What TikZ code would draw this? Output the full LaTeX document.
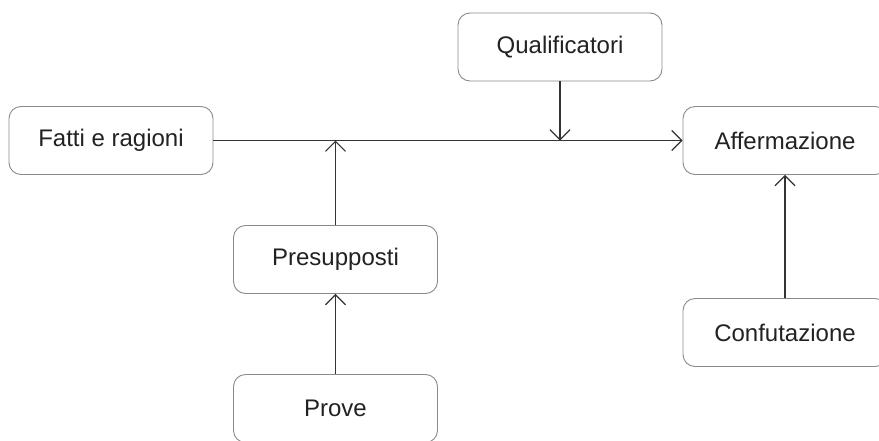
\documentclass[tikz,border=0pt]{standalone}
\usepackage{fontspec}
\setmainfont{Liberation Sans}
\usetikzlibrary{arrows.meta}
\definecolor{boxline}{HTML}{8A8A8A}
\definecolor{conn}{HTML}{333333}
\definecolor{txt}{HTML}{222222}
\tikzset{
  box/.style={draw=boxline, line width=0.9pt, rounded corners=12pt, fill=white,
    minimum width=204pt, minimum height=68pt, inner sep=0pt,
    font=\fontsize{24}{28}\selectfont, text=txt},
  conn/.style={draw=conn, line width=1.2pt},
  tip/.style={conn, -{Straight Barb[length=10pt,width=20pt]}}
}
\begin{document}
\begin{tikzpicture}[x=1pt,y=-1pt]
\useasboundingbox (0,0) rectangle (879,440);
\node[box] (fatti) at (111,140.5) {Fatti e ragioni};
\node[box] (qual) at (560,47) {Qualificatori};
\node[box] (aff) at (785,140.5) {Affermazione};
\node[box] (pres) at (335.5,259.5) {Presupposti};
\node[box] (conf) at (785,332.5) {Confutazione};
\node[box] (prove) at (335.5,408.5) {Prove};
\coordinate (jq) at (qual.south |- fatti.east);
\coordinate (jp) at (pres.north |- fatti.east);
\draw[tip] (fatti.east) -- (aff.west);
\draw[tip] (qual.south) -- (jq);
\draw[tip] (pres.north) -- (jp);
\draw[tip] (prove.north) -- (pres.south);
\draw[tip] (conf.north) -- (aff.south);
\end{tikzpicture}
\end{document}
